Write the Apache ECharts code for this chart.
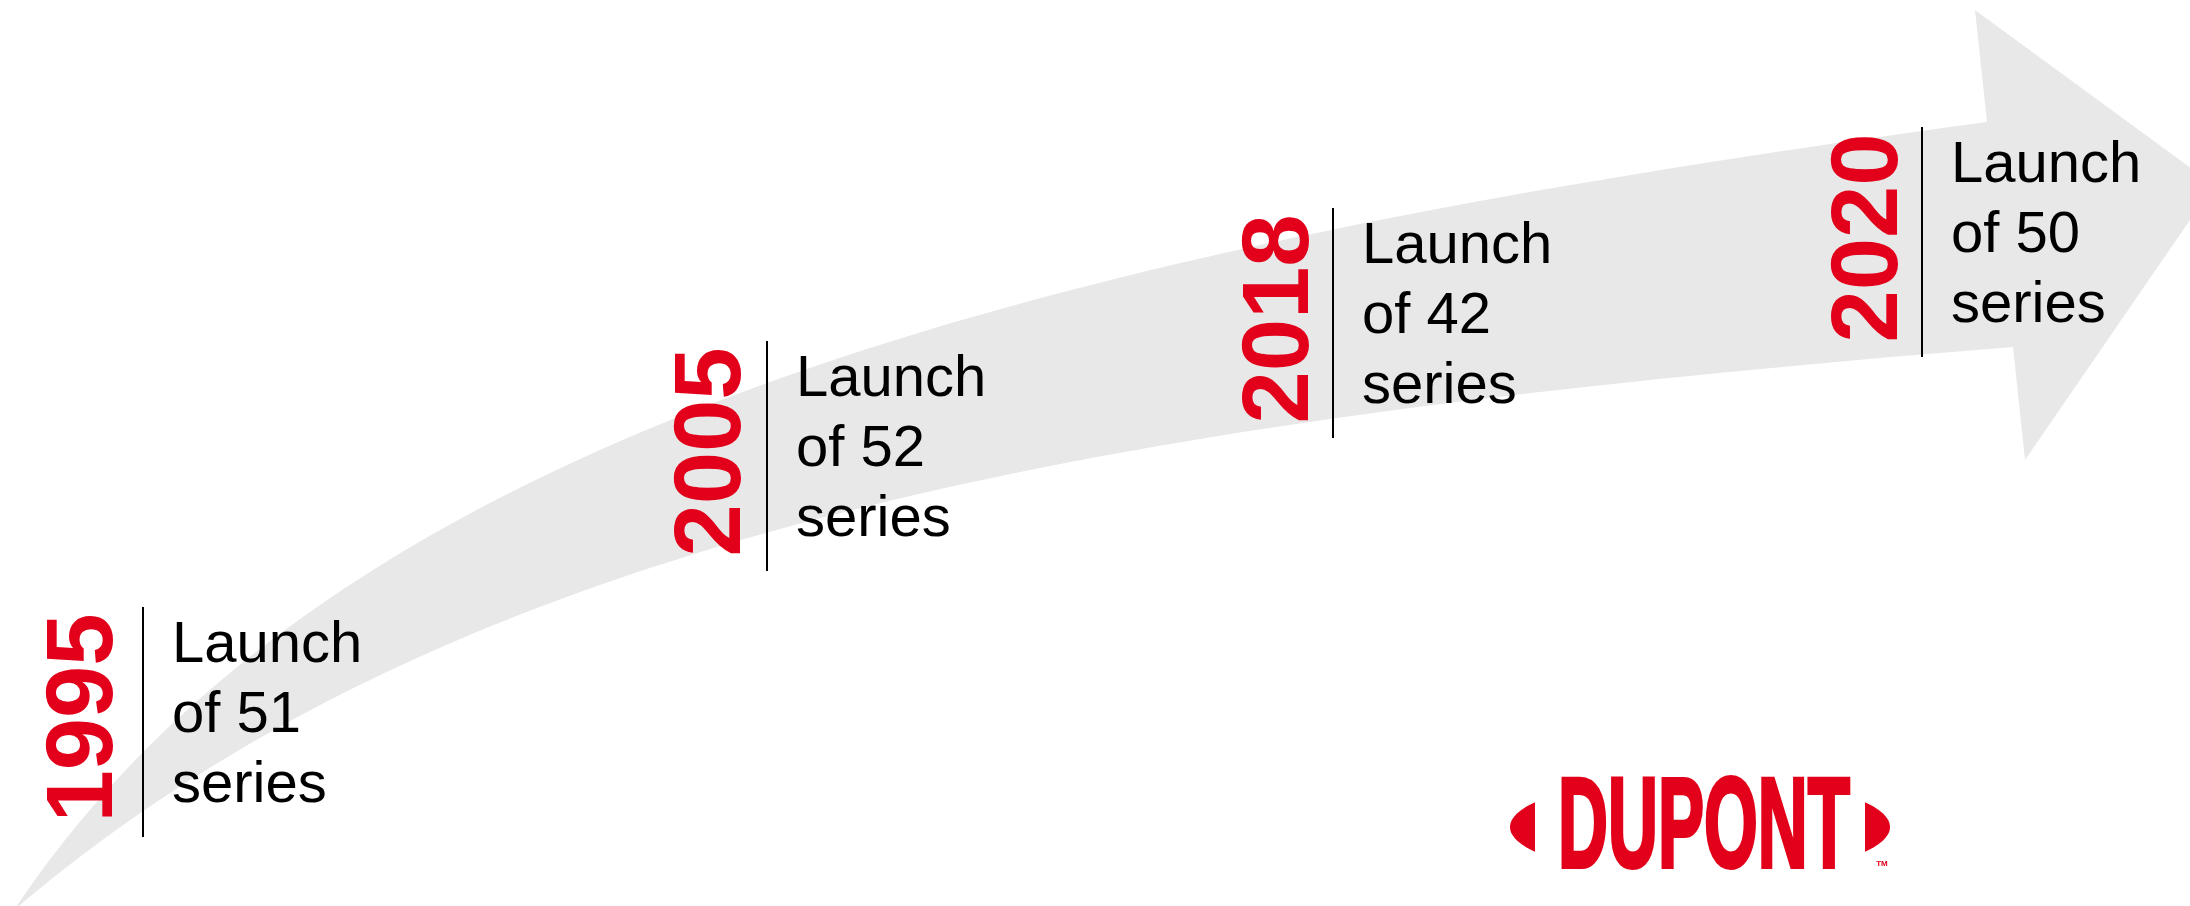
<!DOCTYPE html>
<html>
<head>
<meta charset="utf-8">
<script src="https://cdn.jsdelivr.net/npm/echarts@6/dist/echarts.min.js"></script>
<style>
html,body{margin:0;padding:0;background:#fff;}
#chart{width:2190px;height:906px;}
</style>
</head>
<body>
<div id="chart"></div>
<script>
// ---- data ----
const years = ['1995', '2005', '2018', '2020'];
const seriesCounts = [51, 52, 42, 50];

// ---- layout (pixel positions on a hidden 2190x906 canvas axis) ----
const anchorX = [143, 767, 1333, 1922];   // divider line x
const anchorY = [607, 341, 208, 127];     // divider line top
const yearOffsetX = [-57, -53, -51, -51];
// arrow edges as cubic Bezier control points
const arrowUpperCtrl = [[14,910],[334,430],[1037,250],[1987,122]];
const arrowLowerCtrl = [[14,910],[464,527],[1113,419],[2013,347]];
const arrowHead = [[1975,10],[2214,185],[2025,460]];

const RED = '#e2001a';
const GRAY = '#e8e8e8';
const FAMILY = 'Liberation Sans';

function bezier(c, n) {
  const out = [];
  for (let k = 0; k <= n; k++) {
    const t = k / n, u = 1 - t;
    const a = u * u * u, b = 3 * u * u * t, d = 3 * u * t * t, e = t * t * t;
    out.push([a * c[0][0] + b * c[1][0] + d * c[2][0] + e * c[3][0],
              a * c[0][1] + b * c[1][1] + d * c[2][1] + e * c[3][1]]);
  }
  return out;
}

const arrowPath = bezier(arrowUpperCtrl, 80)
  .concat(arrowHead)
  .concat(bezier(arrowLowerCtrl, 80).reverse());

// DuPont logo caps (segments of an ellipse)
function capPoints(cx, cy, a, b, inner, left) {
  const alpha = Math.acos(inner / a);
  const pts = [];
  const n = 30;
  for (let k = 0; k <= n; k++) {
    const t = (left ? Math.PI - alpha : -alpha) + (2 * alpha) * k / n;
    pts.push([cx + a * Math.cos(t), cy + b * Math.sin(t)]);
  }
  return pts;
}

const chart = echarts.init(document.getElementById('chart'), null, { renderer: 'canvas' });

const option = {
  backgroundColor: '#ffffff',
  animation: false,
  grid: { left: 0, right: 0, top: 0, bottom: 0 },
  xAxis: { type: 'value', min: 0, max: 2190, show: false },
  yAxis: { type: 'value', min: 0, max: 906, inverse: true, show: false },
  series: [
    {
      type: 'custom',
      z: 1,
      silent: true,
      data: [[0, 0]],
      renderItem: function (params, api) {
        return {
          type: 'polygon',
          shape: { points: arrowPath.map(p => api.coord(p)) },
          style: { fill: GRAY }
        };
      }
    },
    {
      type: 'custom',
      z: 5,
      silent: true,
      data: years.map((y, i) => [anchorX[i], anchorY[i], i]),
      renderItem: function (params, api) {
        const i = api.value(2);
        const p = api.coord([api.value(0), api.value(1)]);
        const pBottom = api.coord([api.value(0), api.value(1) + 230]);
        return {
          type: 'group',
          children: [
            {
              type: 'line',
              shape: { x1: p[0], y1: p[1], x2: pBottom[0], y2: pBottom[1] },
              style: { stroke: '#000', lineWidth: 2 }
            },
            {
              type: 'text',
              x: p[0] + yearOffsetX[i],
              y: p[1] + 111,
              rotation: Math.PI / 2,
              style: {
                text: years[i],
                fontFamily: FAMILY,
                fontWeight: 'bold',
                fontSize: 94,
                fill: RED,
                textAlign: 'center',
                textVerticalAlign: 'middle',
                verticalAlign: 'middle'
              }
            },
            {
              type: 'text',
              x: p[0] + 29,
              y: p[1] + 4,
              style: {
                text: 'Launch\nof ' + seriesCounts[i] + '\nseries',
                fontFamily: FAMILY,
                fontSize: 58,
                fill: '#000',
                lineHeight: 70,
                textAlign: 'left',
                textVerticalAlign: 'top',
                verticalAlign: 'top'
              }
            }
          ]
        };
      }
    }
  ],
  graphic: [
    { type: 'polygon', z: 10, shape: { points: capPoints(1700, 827, 190, 50, 165, true) }, style: { fill: RED } },
    { type: 'polygon', z: 10, shape: { points: capPoints(1700, 827, 190, 50, 165, false) }, style: { fill: RED } },
    {
      type: 'text', z: 10, x: 1704, y: 832, scaleX: 0.54,
      style: {
        text: 'DUPONT', fontFamily: FAMILY, fontWeight: 'bold', fontSize: 128,
        fill: RED, stroke: RED, lineWidth: 4,
        textAlign: 'center', textVerticalAlign: 'middle', verticalAlign: 'middle'
      }
    },
    {
      type: 'text', z: 10, x: 1882, y: 864,
      style: { text: 'TM', fontFamily: FAMILY, fontWeight: 'bold', fontSize: 8, fill: RED, textAlign: 'center', textVerticalAlign: 'middle', verticalAlign: 'middle' }
    }
  ]
};
chart.setOption(option);
</script>
</body>
</html>
